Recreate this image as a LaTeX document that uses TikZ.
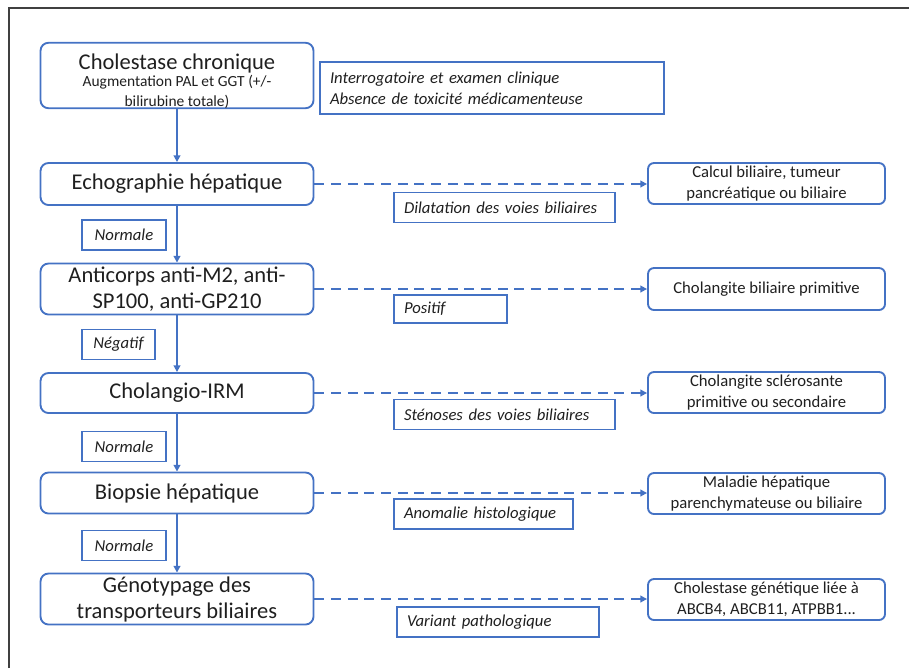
\documentclass[tikz,border=0pt]{standalone}
\usepackage{fontspec}
\setmainfont{Carlito}
\usepackage{xcolor}
\definecolor{cMain}{HTML}{4472C4}
\definecolor{cText}{HTML}{1F1F1F}
\definecolor{cFrame}{HTML}{404040}
\usepackage{tikz}
\usetikzlibrary{positioning,arrows.meta}
\newcommand{\bigfont}{\fontsize{16.9}{19.5}\selectfont}
\newcommand{\subfont}{\fontsize{11.6}{14.3}\selectfont}
\newcommand{\smallfont}{\fontsize{12.5}{15.5}\selectfont}
\tikzset{
  node-step/.style={draw=cMain,line width=1.4pt,rounded corners=6pt,
    minimum width=204.75pt,align=center,font=\bigfont,text=cText,inner sep=0pt},
  node-result/.style={draw=cMain,line width=1.4pt,rounded corners=4.5pt,
    minimum width=177.75pt,minimum height=30.75pt,align=center,
    font=\smallfont,text=cText,inner sep=0pt},
  node-tag/.style={draw=cMain,line width=1.4pt,minimum height=22.5pt,
    align=left,inner xsep=7.5pt,inner ysep=0pt,font=\smallfont\itshape,text=cText},
  arrow/.style={-{Triangle[length=5pt,width=5pt]},line width=1.5pt,draw=cMain},
  arrow-dashed/.style={arrow,dash pattern=on 7.5pt off 5pt},
}

\begin{document}
\begin{tikzpicture}[x=0.75pt,y=-0.75pt]
  \useasboundingbox (0,0) rectangle (909,668);
  \draw[cFrame,line width=1.1pt] (9,668) -- (9,8) -- (909,8);
  % étapes du bilan
  \node[node-step,minimum height=48.75pt] (chol) at (177,75.5)
    {\rule{0pt}{20pt}Cholestase chronique\\[-6.5pt]\subfont Augmentation PAL et GGT (+/-\\[-5pt]\subfont bilirubine totale)};
  \node[node-step,minimum height=31.5pt]  (echo) at (177,184) {Echographie hépatique};
  \node[node-step,minimum height=38.25pt] (anti) at (177,289) {Anticorps anti-M2, anti-\\SP100, anti-GP210};
  \node[node-step,minimum height=30pt]    (irm)  at (177,393) {Cholangio-IRM};
  \node[node-step,minimum height=30.75pt] (biop) at (177,493) {Biopsie hépatique};
  \node[node-step,minimum height=38.25pt] (geno) at (177,599) {Génotypage des\\transporteurs biliaires};
  % diagnostics
  \node[node-result] (calc) at (766.5,183.5) {Calcul biliaire, tumeur\\pancréatique ou biliaire};
  \node[node-result,minimum height=31.5pt] (cbp) at (766.5,289) {Cholangite biliaire primitive};
  \node[node-result] (csp) at (766.5,392.5) {Cholangite sclérosante\\primitive ou secondaire};
  \node[node-result] (mal) at (766.5,493.5) {Maladie hépatique\\parenchymateuse ou biliaire};
  \node[node-result] (gen) at (766.5,599.5) {Cholestase génétique liée à\\ABCB4, ABCB11, ATPBB1...};
  % étiquettes
  \node[node-tag,text width=243pt,minimum height=39pt] (info) at (492,88)
    {Interrogatoire et examen clinique\\Absence de toxicité médicamenteuse};
  \node[node-tag,text width=150.75pt] (dil) at (504.5,207.5) {Dilatation des voies biliaires};
  \node[node-tag,text width=69.75pt,minimum height=21pt] (pos) at (450.5,309) {Positif};
  \node[node-tag,text width=150.75pt] (ste) at (504.5,414.5) {Sténoses des voies biliaires};
  \node[node-tag,text width=119.25pt] (ano) at (483.5,514) {Anomalie histologique};
  \node[node-tag,text width=136.5pt]  (var) at (498,622) {Variant pathologique};
  \node[node-tag,text width=48pt,align=center] (norm1) at (124,235) {Normale};
  \node[node-tag,text width=44.75pt,inner xsep=5pt,align=center] (neg) at (118.5,344.5) {Négatif};
  \node[node-tag,text width=48pt,align=center] (norm2) at (124,446.5) {Normale};
  \node[node-tag,text width=48pt,align=center] (norm3) at (124,545.5) {Normale};
  % flèches
  \draw[arrow] (chol) -- (echo);
  \draw[arrow] (echo) -- (anti);
  \draw[arrow] (anti) -- (irm);
  \draw[arrow] (irm) -- (biop);
  \draw[arrow] (biop) -- (geno);
  \draw[arrow-dashed] (echo.east) -- (echo.east -| calc.west);
  \draw[arrow-dashed] (anti.east) -- (anti.east -| cbp.west);
  \draw[arrow-dashed] (irm.east) -- (irm.east -| csp.west);
  \draw[arrow-dashed] (biop.east) -- (biop.east -| mal.west);
  \draw[arrow-dashed] (geno.east) -- (geno.east -| gen.west);
\end{tikzpicture}
\end{document}
